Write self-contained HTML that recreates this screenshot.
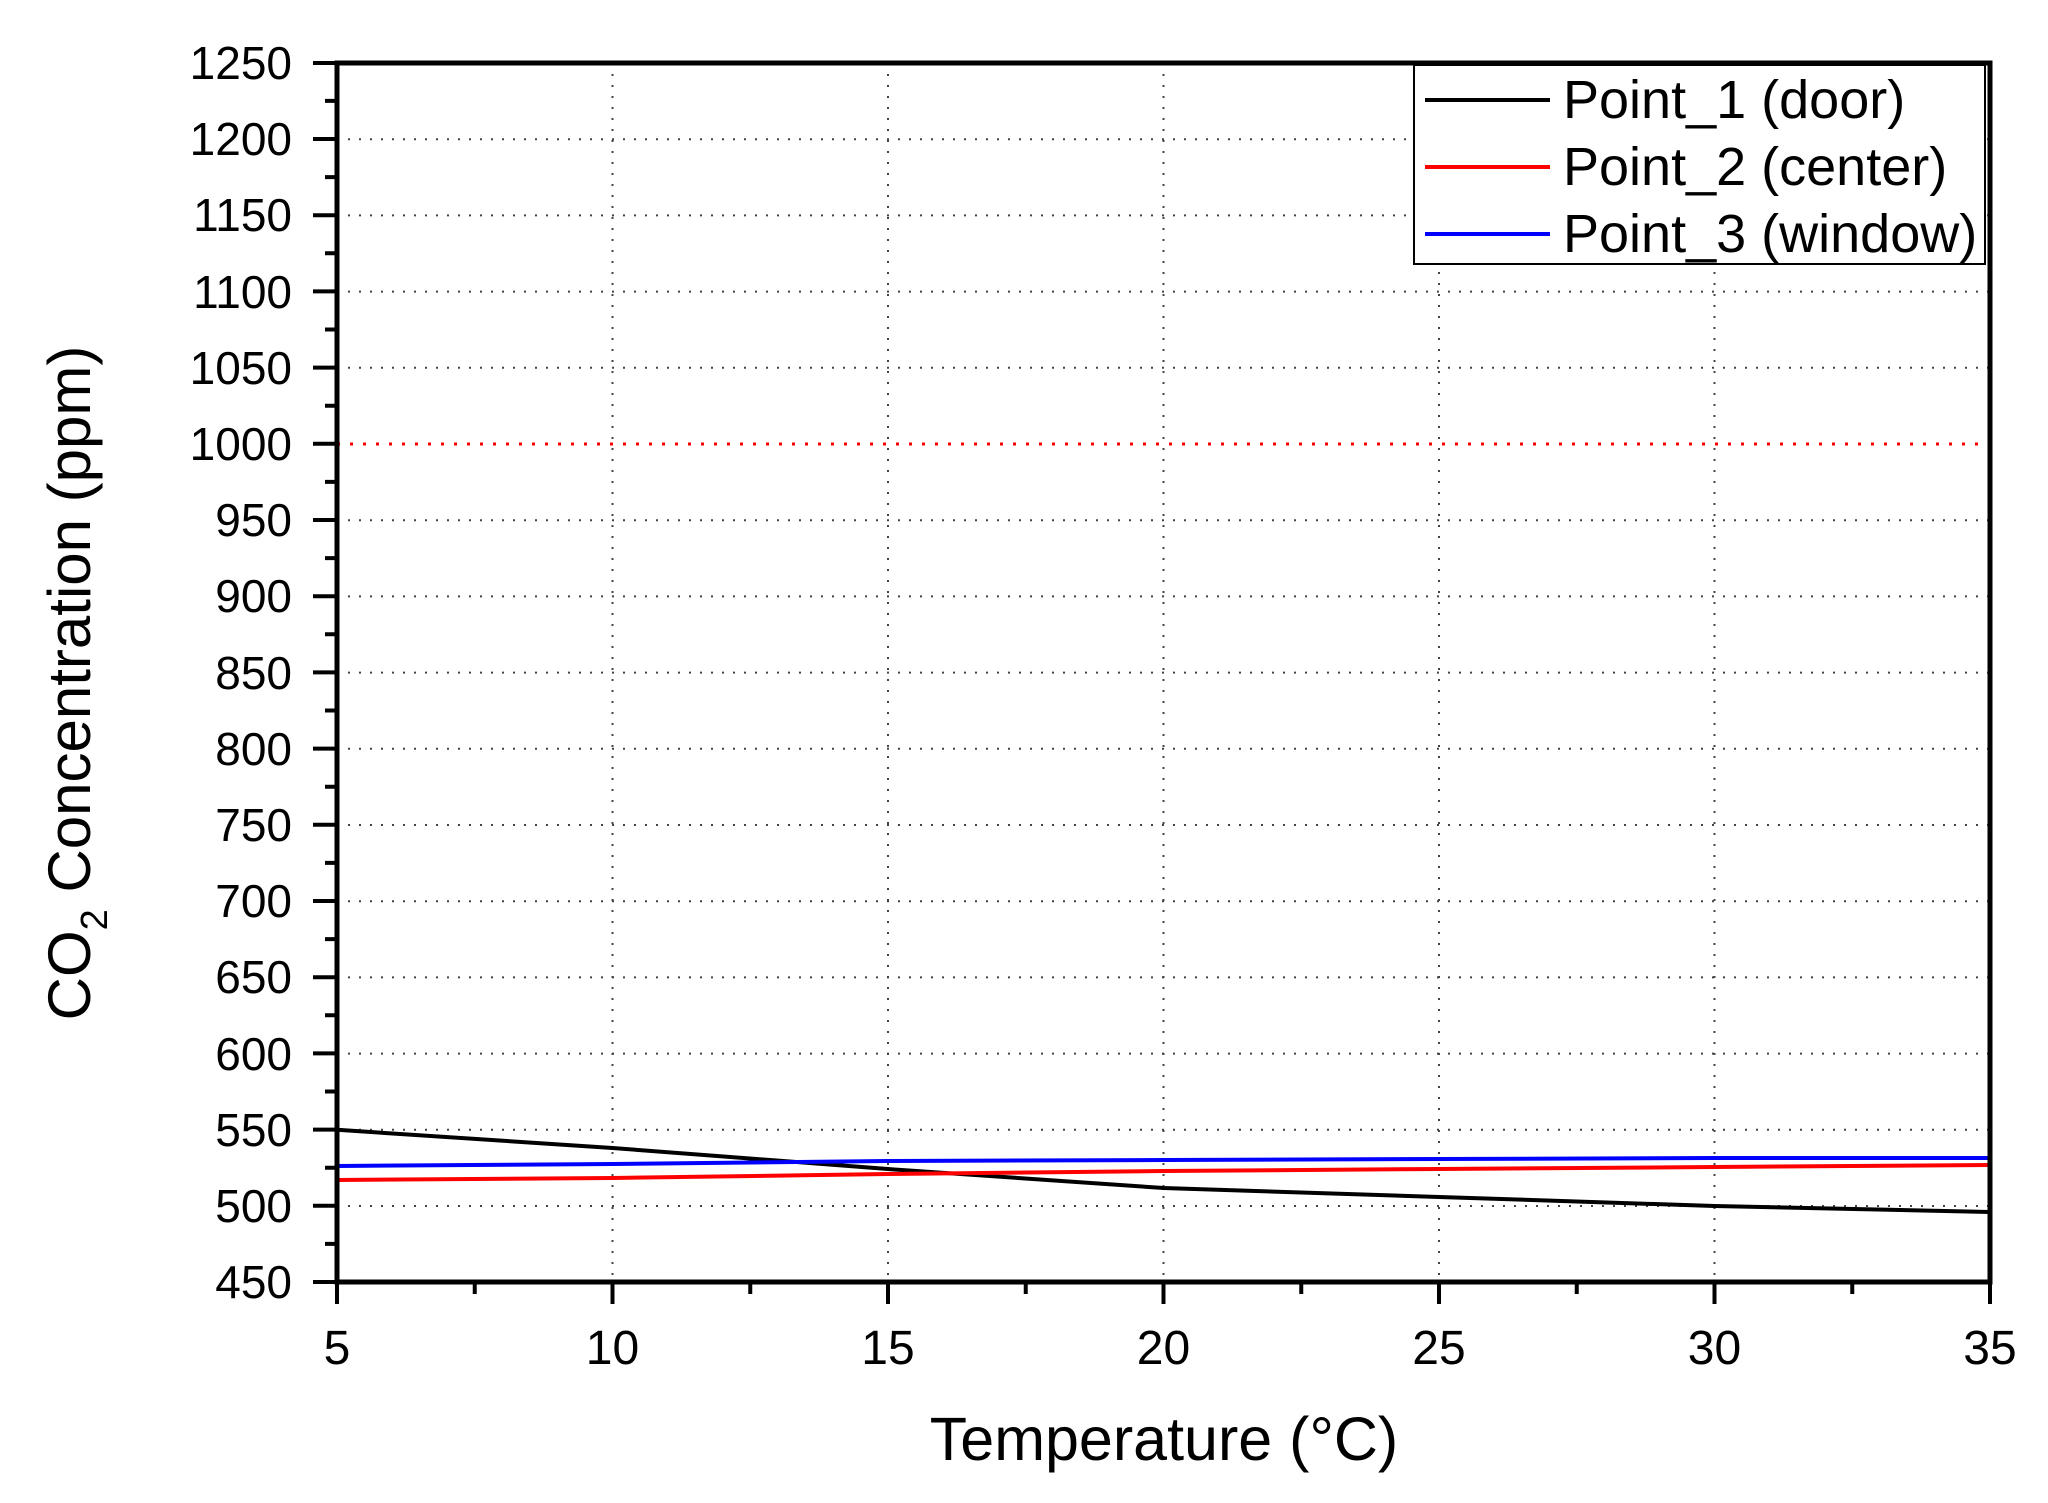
<!DOCTYPE html>
<html><head><style>body{margin:0;background:#fff}svg{display:block}</style></head>
<body>
<svg width="2048" height="1503" viewBox="0 0 2048 1503" xmlns="http://www.w3.org/2000/svg" font-family="Liberation Sans, Arial, sans-serif">
<rect width="2048" height="1503" fill="#fff"/>
<g stroke="#444" stroke-width="2" stroke-dasharray="2,9">
<line x1="612.5" y1="63" x2="612.5" y2="1282"/>
<line x1="888" y1="63" x2="888" y2="1282"/>
<line x1="1163.5" y1="63" x2="1163.5" y2="1282"/>
<line x1="1439" y1="63" x2="1439" y2="1282"/>
<line x1="1714.5" y1="63" x2="1714.5" y2="1282"/>
<line x1="337" y1="139.2" x2="1990" y2="139.2"/><line x1="337" y1="215.4" x2="1990" y2="215.4"/><line x1="337" y1="291.6" x2="1990" y2="291.6"/><line x1="337" y1="367.8" x2="1990" y2="367.8"/><line x1="337" y1="520.2" x2="1990" y2="520.2"/><line x1="337" y1="596.4" x2="1990" y2="596.4"/><line x1="337" y1="672.6" x2="1990" y2="672.6"/><line x1="337" y1="748.8" x2="1990" y2="748.8"/><line x1="337" y1="825" x2="1990" y2="825"/><line x1="337" y1="901.2" x2="1990" y2="901.2"/><line x1="337" y1="977.4" x2="1990" y2="977.4"/><line x1="337" y1="1053.6" x2="1990" y2="1053.6"/><line x1="337" y1="1129.8" x2="1990" y2="1129.8"/><line x1="337" y1="1206" x2="1990" y2="1206"/>
</g>
<line x1="337" y1="444" x2="1990" y2="444" stroke="#f00" stroke-width="3" stroke-dasharray="3,10"/>
<g fill="none" stroke-width="4">
<polyline stroke="#000" points="337,1129.8 612.5,1148 888,1169 1163.5,1188 1439,1197 1714.5,1206 1990,1212"/>
<polyline stroke="#f00" points="337,1180 612.5,1178 888,1174 1163.5,1171 1439,1169 1714.5,1167 1990,1165"/>
<polyline stroke="#00f" points="337,1166 612.5,1164 888,1161 1163.5,1160 1439,1159 1714.5,1158 1990,1158"/>
</g>
<rect x="337" y="63" width="1653" height="1219" fill="none" stroke="#000" stroke-width="5"/>
<g stroke="#000" stroke-width="4">
<path d="M337,1282v22M612.5,1282v22M888,1282v22M1163.5,1282v22M1439,1282v22M1714.5,1282v22M1990,1282v22"/>
<path d="M474.75,1282v12M750.25,1282v12M1025.75,1282v12M1301.25,1282v12M1576.75,1282v12M1852.25,1282v12"/>
<path d="M337,1282h-24M337,1205.8h-24M337,1129.6h-24M337,1053.4h-24M337,977.2h-24M337,901h-24M337,824.8h-24M337,748.6h-24M337,672.4h-24M337,596.2h-24M337,520h-24M337,443.8h-24M337,367.6h-24M337,291.4h-24M337,215.2h-24M337,139h-24M337,63h-24"/>
<path d="M337,1243.9h-12M337,1167.7h-12M337,1091.5h-12M337,1015.3h-12M337,939.1h-12M337,862.9h-12M337,786.7h-12M337,710.5h-12M337,634.3h-12M337,558.1h-12M337,481.9h-12M337,405.7h-12M337,329.5h-12M337,253.3h-12M337,177.1h-12M337,100.9h-12"/>
</g>
<g font-size="46" text-anchor="end" fill="#000">
<text x="292" y="1298">450</text><text x="292" y="1222">500</text><text x="292" y="1146">550</text><text x="292" y="1070">600</text><text x="292" y="993">650</text><text x="292" y="917">700</text><text x="292" y="841">750</text><text x="292" y="765">800</text><text x="292" y="689">850</text><text x="292" y="612">900</text><text x="292" y="536">950</text><text x="292" y="460">1000</text><text x="292" y="384">1050</text><text x="292" y="308">1100</text><text x="292" y="231">1150</text><text x="292" y="155">1200</text><text x="292" y="79">1250</text>
</g>
<g font-size="48" text-anchor="middle">
<text x="337" y="1364">5</text><text x="612.5" y="1364">10</text><text x="888" y="1364">15</text><text x="1163.5" y="1364">20</text><text x="1439" y="1364">25</text><text x="1714.5" y="1364">30</text><text x="1990" y="1364">35</text>
</g>
<text x="1164" y="1460" font-size="61" text-anchor="middle">Temperature (°C)</text>
<text transform="translate(90,683) rotate(-90)" font-size="60" text-anchor="middle">CO<tspan font-size="38" dy="17">2</tspan><tspan dy="-17"> Concentration (ppm)</tspan></text>
<rect x="1414" y="65" width="571" height="199" fill="#fff" stroke="#000" stroke-width="2"/>
<line x1="1425" y1="100" x2="1550" y2="100" stroke="#000" stroke-width="4"/>
<line x1="1425" y1="167" x2="1550" y2="167" stroke="#f00" stroke-width="4"/>
<line x1="1425" y1="234" x2="1550" y2="234" stroke="#00f" stroke-width="4"/>
<g font-size="54">
<text x="1563" y="118">Point_1 (door)</text>
<text x="1563" y="185">Point_2 (center)</text>
<text x="1563" y="252">Point_3 (window)</text>
</g>
</svg>
</body></html>
